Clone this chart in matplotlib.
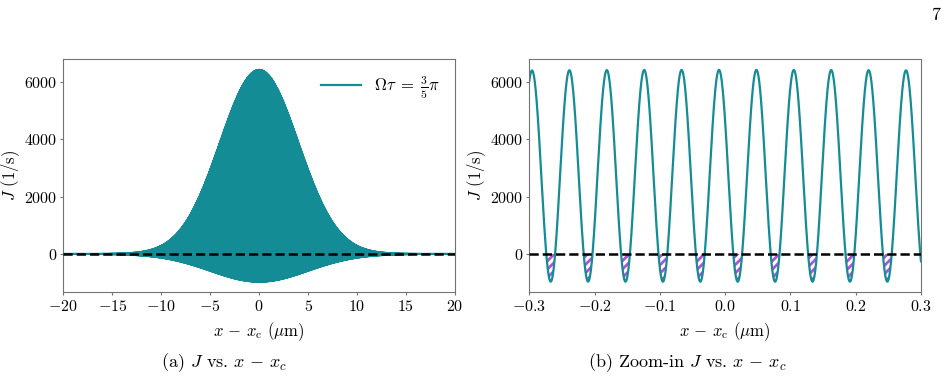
import numpy as np
import matplotlib
matplotlib.use('Agg')
import matplotlib.pyplot as plt

# values
J_peak = 6420.0          # upper envelope at x = x_c  (1/s)
J_trough = -970.0        # lower envelope at x = x_c  (1/s)
sigma_upper = 4.0        # width of upper envelope (um)
sigma_lower = 5.0        # width of lower envelope (um)
fringe_period = 0.0573   # fringe spacing (um)
first_peak = -0.0094     # position of the fringe maximum nearest x_c (um)

xlim_full = [-20, 20]
xlim_zoom = [-0.3, 0.3]
xticks_full = [-20, -15, -10, -5, 0, 5, 10, 15, 20]
xticks_zoom = [-0.3, -0.2, -0.1, 0.0, 0.1, 0.2, 0.3]
yticks = [0, 2000, 4000, 6000]
legend_label = r'$\Omega\tau \;=\; \frac{3}{5}\pi$'
captions = [r'(a) $J$ vs. $x \,-\, x_c$', r'(b) Zoom-in $J$ vs. $x \,-\, x_c$']

line_color = '#148c96'
hatch_color = '#b64fd6'

plt.rcParams['font.family'] = 'serif'
plt.rcParams['font.serif'] = ['cmr10']
plt.rcParams['mathtext.fontset'] = 'cm'
plt.rcParams['axes.formatter.use_mathtext'] = True
plt.rcParams['font.size'] = 12
plt.rcParams['xtick.labelsize'] = 11.5
plt.rcParams['ytick.labelsize'] = 11.5
plt.rcParams['xtick.major.size'] = 2.5
plt.rcParams['ytick.major.size'] = 2.5
plt.rcParams['xtick.major.pad'] = 2.5
plt.rcParams['ytick.major.pad'] = 1.5
plt.rcParams['axes.edgecolor'] = '0.45'
plt.rcParams['xtick.color'] = '0.45'
plt.rcParams['ytick.color'] = '0.45'
plt.rcParams['xtick.labelcolor'] = 'black'
plt.rcParams['ytick.labelcolor'] = 'black'
plt.rcParams['hatch.linewidth'] = 2.0


def current(x):
    up = J_peak * np.exp(-x**2 / (2 * sigma_upper**2))
    lo = J_trough * np.exp(-x**2 / (2 * sigma_lower**2))
    mid = (up + lo) / 2
    half = (up - lo) / 2
    return mid + half * np.cos(2 * np.pi * (x - first_peak) / fringe_period)


fig = plt.figure(figsize=(9.52, 3.78), dpi=100)
ax1 = fig.add_axes([0.0665, 0.2267, 0.4114, 0.6164])
ax2 = fig.add_axes([0.556, 0.2267, 0.4114, 0.6164])

for ax, xl, xt, n in [(ax1, xlim_full, xticks_full, 400001),
                      (ax2, xlim_zoom, xticks_zoom, 12001)]:
    x = np.linspace(xl[0], xl[1], n)
    J = current(x)
    ax.plot(x, J, color=line_color, lw=1.6, label=legend_label, zorder=2)
    if ax is ax2:
        ax.fill_between(x, J, 0, where=J < 0, interpolate=True, facecolor='white',
                        edgecolor=hatch_color, hatch='////', lw=0, zorder=1)
    ax.axhline(0, color='black', ls='--', lw=1.8, zorder=3)
    ax.set_xlim(xl)
    ax.set_xticks(xt)
    ax.set_yticks(yticks)
    ax.set_xlabel(r'$x \,-\, x_{\rm c}$ ($\mu$m)', labelpad=4)
    ax.set_ylabel(r'$J$ (1/s)')
    ax.yaxis.set_label_coords(-0.105, 0.5)

ax1.set_ylim(-1340, 6790)
ax2.set_ylim(-1340, 6790)
ax1.legend(loc='upper right', frameon=False, handlelength=2.4)

fig.text(0.236, 0.04, captions[0], ha='center', va='center', fontsize=13)
fig.text(0.722, 0.04, captions[1], ha='center', va='center', fontsize=13)
fig.text(0.988, 0.96, '7', ha='right', va='center', fontsize=13)

fig.savefig('out.png', dpi=100)
